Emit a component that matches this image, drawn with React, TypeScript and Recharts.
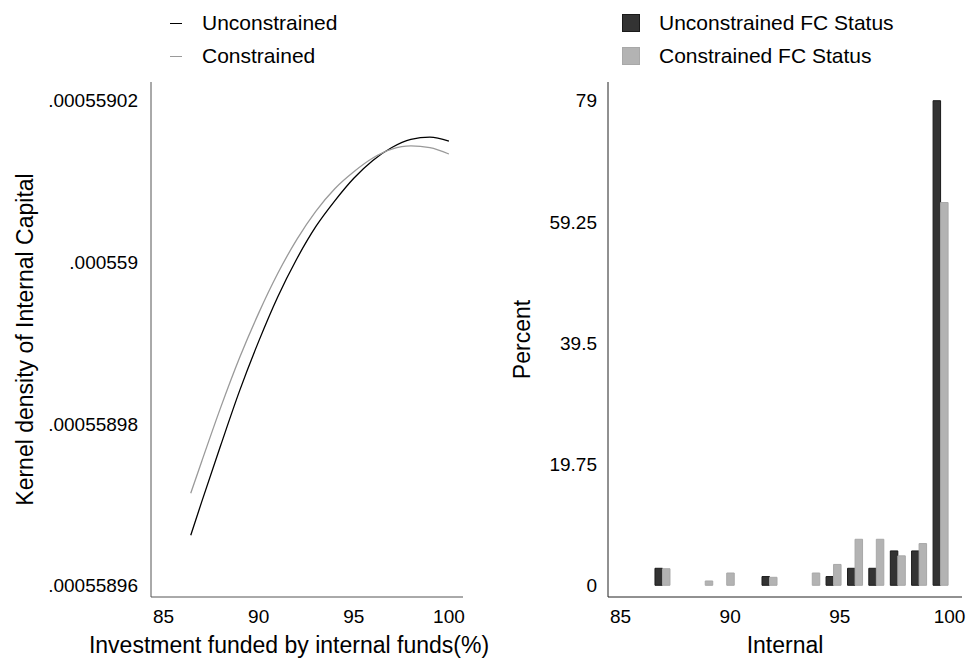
import React from 'react';
import { LineChart, Line, BarChart, Bar, XAxis, YAxis, Legend, Label } from 'recharts';

// kernel density curves (left panel)
const densityX = [86.43, 87, 88, 89, 90, 91, 92, 93, 94, 95, 96, 97, 98, 99, 100];
const unconstrainedDensity = [
  0.0005589662, 0.0005589703, 0.0005589773, 0.0005589841, 0.0005589902, 0.0005589957, 0.0005590004,
  0.0005590044, 0.0005590076, 0.0005590104, 0.0005590126, 0.0005590142, 0.0005590152, 0.0005590155, 0.000559015
];
const constrainedDensity = [
  0.0005589714, 0.0005589753, 0.000558982, 0.0005589882, 0.0005589937, 0.0005589986, 0.0005590028,
  0.0005590063, 0.0005590091, 0.0005590112, 0.0005590129, 0.000559014, 0.0005590144, 0.0005590142, 0.0005590134
];
const densityTicksX = [85, 90, 95, 100];
const densityTicksY = [0.00055896, 0.00055898, 0.000559, 0.00055902];
const lineNames = ['Unconstrained', 'Constrained'];

// histogram (right panel)
const binCenters = [86.92, 87.9, 88.87, 89.85, 90.82, 91.8, 92.77, 93.75, 94.72, 95.7, 96.67, 97.65, 98.62, 99.6];
const unconstrainedPct = [2.77, 0, 0, 0, 0, 1.42, 0, 0, 1.42, 2.77, 2.77, 5.6, 5.6, 79];
const constrainedPct = [2.7, 0, 0.7, 2.0, 0, 1.3, 0, 2.0, 3.4, 7.5, 7.5, 4.8, 6.8, 62.4];
const histTicksX = [85, 90, 95, 100];
const histTicksY = [0, 19.75, 39.5, 59.25, 79];
const barNames = ['Unconstrained FC Status', 'Constrained FC Status'];

const FONT = '"Liberation Sans", Arial, sans-serif';
const DARK = '#333333';
const LIGHT = '#b3b3b3';

const densityData = densityX.map((x, i) => ({
  x,
  unconstrained: unconstrainedDensity[i],
  constrained: constrainedDensity[i]
}));

const histData = binCenters.map((x, i) => ({
  x,
  unconstrained: unconstrainedPct[i],
  constrained: constrainedPct[i]
}));

const fmtDensity = (v: number) => v.toFixed(8).replace(/^0/, '').replace(/0+$/, '');

// legend keeps the series order instead of recharts' alphabetical sort
const ordered = (payload: any[], names: string[]) =>
  [...(payload || [])].sort((a, b) => names.indexOf(a.value) - names.indexOf(b.value));

const LineLegend = ({ payload }: any) => (
  <div style={{ position: 'relative', width: 486, height: 80, fontFamily: FONT, fontSize: 21 }}>
    {ordered(payload, lineNames).map((p: any, i: number) => (
      <div
        key={p.value}
        style={{ position: 'absolute', left: 170, top: 11 + i * 33, height: 24, display: 'flex', alignItems: 'center' }}
      >
        <span style={{ display: 'inline-block', width: 12, borderTop: `1px solid ${p.color}`, marginRight: 20 }} />
        <span>{p.value}</span>
      </div>
    ))}
  </div>
);

const BarLegend = ({ payload }: any) => (
  <div style={{ position: 'relative', width: 486, height: 80, fontFamily: FONT, fontSize: 21 }}>
    {ordered(payload, barNames).map((p: any, i: number) => (
      <div
        key={p.value}
        style={{ position: 'absolute', left: 136, top: 11 + i * 33, height: 24, display: 'flex', alignItems: 'center' }}
      >
        <span
          style={{
            display: 'inline-block',
            width: 16,
            height: 16,
            background: p.color,
            border: i === 0 ? '1px solid #1a1a1a' : '1px solid #a8a8a8',
            marginRight: 19
          }}
        />
        <span>{p.value}</span>
      </div>
    ))}
  </div>
);

const tickStyle = { fontSize: 19, fill: '#000', fontFamily: FONT };
const titleStyle = { fontSize: 23, fill: '#000', fontFamily: FONT, textAnchor: 'middle' as const };

export default function App() {
  return (
    <div style={{ position: 'absolute', left: 0, top: 0, width: 972, height: 661, background: '#fff', fontFamily: FONT }}>
      <div style={{ position: 'absolute', left: 0, top: 0 }}>
        <LineChart width={500} height={661} data={densityData} margin={{ top: 82, right: 37, bottom: 0, left: 0 }}>
          <XAxis
            type="number"
            dataKey="x"
            domain={[84.34, 100.74]}
            ticks={densityTicksX}
            interval={0}
            allowDataOverflow
            tickLine={false}
            tickMargin={7}
            height={64}
            axisLine={{ stroke: '#555' }}
            tick={tickStyle}
          >
            <Label
              value="Investment funded by internal funds(%)"
              position="insideBottom"
              offset={8}
              dx={-18}
              style={titleStyle}
            />
          </XAxis>
          <YAxis
            type="number"
            domain={[0.00055895855, 0.000559022315]}
            ticks={densityTicksY}
            interval={0}
            allowDataOverflow
            tickFormatter={fmtDensity}
            tickLine={false}
            tickMargin={7}
            width={151}
            axisLine={{ stroke: '#555' }}
            tick={tickStyle}
          >
            <Label value="Kernel density of Internal Capital" angle={-90} position="insideLeft" offset={25} style={titleStyle} />
          </YAxis>
          <Legend
            layout="vertical"
            verticalAlign="middle"
            align="center"
            wrapperStyle={{ top: 0, left: 0, width: 486, height: 80 }}
            content={<LineLegend />}
          />
          <Line
            type="monotone"
            dataKey="unconstrained"
            name="Unconstrained"
            stroke="#000"
            strokeWidth={1.3}
            dot={false}
            isAnimationActive={false}
          />
          <Line
            type="monotone"
            dataKey="constrained"
            name="Constrained"
            stroke="#9a9a9a"
            strokeWidth={1.3}
            dot={false}
            isAnimationActive={false}
          />
        </LineChart>
      </div>

      <div style={{ position: 'absolute', left: 486, top: 0 }}>
        <BarChart
          width={486}
          height={661}
          data={histData}
          barGap={0}
          margin={{ top: 82, right: 10, bottom: 0, left: 0 }}
        >
          <XAxis
            type="number"
            dataKey="x"
            domain={[84.43, 100.57]}
            ticks={histTicksX}
            interval={0}
            allowDataOverflow
            tickLine={false}
            tickMargin={7}
            height={64}
            axisLine={{ stroke: '#222' }}
            tick={tickStyle}
          >
            <Label value="Internal" position="insideBottom" offset={8} style={titleStyle} />
          </XAxis>
          <YAxis
            type="number"
            domain={[-1.91, 82.05]}
            ticks={histTicksY}
            interval={0}
            allowDataOverflow
            tickLine={false}
            tickMargin={5}
            width={122}
            axisLine={{ stroke: '#222' }}
            tick={tickStyle}
          >
            <Label value="Percent" angle={-90} position="insideLeft" offset={36} style={titleStyle} />
          </YAxis>
          <Legend
            layout="vertical"
            verticalAlign="middle"
            align="center"
            wrapperStyle={{ top: 0, left: 0, width: 486, height: 80 }}
            content={<BarLegend />}
          />
          <Bar
            dataKey="unconstrained"
            name="Unconstrained FC Status"
            fill={DARK}
            stroke="#1a1a1a"
            strokeWidth={1}
            barSize={7.5}
            isAnimationActive={false}
          />
          <Bar
            dataKey="constrained"
            name="Constrained FC Status"
            fill={LIGHT}
            stroke="#a8a8a8"
            strokeWidth={1}
            barSize={7.5}
            isAnimationActive={false}
          />
        </BarChart>
      </div>
    </div>
  );
}
